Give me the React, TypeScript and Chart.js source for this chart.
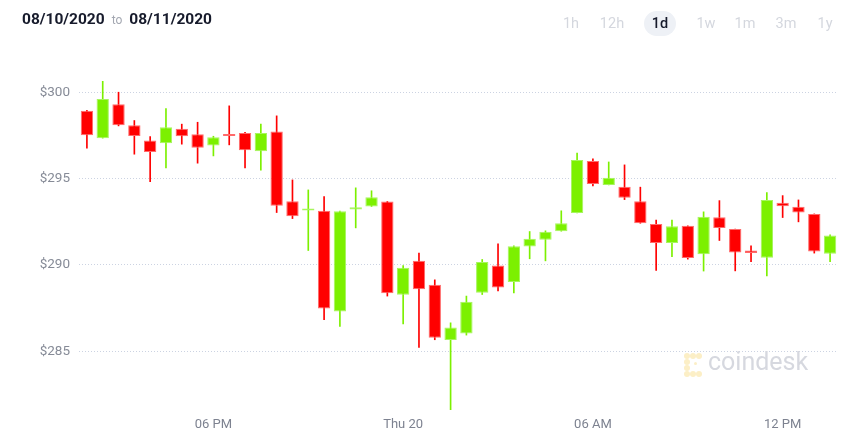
import React, { useEffect, useRef } from "react";
import { Chart, registerables } from "chart.js";

Chart.register(...registerables);

const times = [
  "14:00", "14:30", "15:00", "15:30", "16:00", "16:30", "17:00", "17:30",
  "18:00", "18:30", "19:00", "19:30", "20:00", "20:30", "21:00", "21:30",
  "22:00", "22:30", "23:00", "23:30", "00:00", "00:30", "01:00", "01:30",
  "02:00", "02:30", "03:00", "03:30", "04:00", "04:30", "05:00", "05:30",
  "06:00", "06:30", "07:00", "07:30", "08:00", "08:30", "09:00", "09:30",
  "10:00", "10:30", "11:00", "11:30", "12:00", "12:30", "13:00", "13:30",
];

const opens = [
  298.93, 297.34, 299.31, 298.09, 297.2, 297.05, 297.89, 297.57, 296.91, 297.52, 297.64, 296.58,
  297.72, 293.69, 293.15, 293.13, 287.3, 293.2, 293.38, 293.67, 288.26, 290.23, 288.84, 285.64,
  286.02, 288.38, 289.96, 289.0, 291.06, 291.45, 291.95, 293.01, 296.02, 294.63, 294.52, 293.69,
  292.36, 291.27, 292.26, 290.62, 292.76, 292.07, 290.83, 290.41, 293.59, 293.36, 292.95, 290.64,
];
const highs = [
  298.95, 300.65, 300.0, 298.36, 297.43, 299.05, 298.15, 298.26, 297.45, 299.21, 297.68, 298.16,
  298.63, 294.92, 294.34, 293.95, 293.11, 294.46, 294.29, 293.67, 289.96, 290.68, 289.13, 286.64,
  288.19, 290.31, 291.22, 291.1, 291.93, 291.97, 293.13, 296.47, 296.14, 295.96, 295.79, 294.5,
  292.59, 292.59, 292.26, 293.07, 293.72, 292.07, 291.1, 294.19, 294.01, 293.76, 292.95, 291.74,
];
const lows = [
  296.76, 297.34, 298.05, 296.41, 294.82, 295.62, 296.99, 295.89, 296.31, 296.95, 295.62, 295.48,
  293.03, 292.68, 290.83, 286.82, 286.43, 292.14, 293.38, 288.19, 286.57, 285.21, 285.66, 281.59,
  285.93, 288.28, 288.49, 288.38, 290.35, 290.23, 291.95, 293.01, 294.57, 294.63, 293.78, 292.41,
  289.67, 290.48, 290.33, 289.64, 291.41, 289.65, 290.19, 289.36, 292.74, 292.49, 290.68, 290.19,
];
const closes = [
  297.51, 299.61, 298.09, 297.47, 296.54, 297.97, 297.45, 296.79, 297.39, 297.46, 296.64, 297.64,
  293.43, 292.82, 293.19, 287.47, 293.11, 293.34, 293.92, 288.36, 289.83, 288.59, 285.77, 286.37,
  287.86, 290.16, 288.69, 291.08, 291.51, 291.91, 292.41, 296.08, 294.69, 295.04, 293.88, 292.41,
  291.26, 292.24, 290.39, 292.78, 292.14, 290.71, 290.68, 293.76, 293.4, 293.03, 290.77, 291.7,
];

const yTickValues = [285, 290, 295, 300];
const xTickLabels: Record<string, string> = {
  "18:00": "06 PM",
  "00:00": "Thu 20",
  "06:00": "06 AM",
  "12:00": "12 PM",
};

const rangeButtons = ["1h", "12h", "1d", "1w", "1m", "3m", "1y"];
const activeRange = "1d";
const fromDate = "08/10/2020";
const toDate = "08/11/2020";

const UP = "#7cf000";
const DOWN = "#ff0000";
const UP_BORDER = "#a6f55e";
const DOWN_BORDER = "#ff6a6a";

// watermark icon blobs (relative offsets, px)
const iconDots = [
  [0, 0], [6, 0], [12, 0],
  [0, 6], [0, 12], [0, 18],
  [6, 18], [12, 18],
  [10, 9],
];

export default function App() {
  const ref = useRef<HTMLCanvasElement | null>(null);

  useEffect(() => {
    if (!ref.current) return;
    const isUp = times.map((_, i) => closes[i] >= opens[i]);
    const chart = new Chart(ref.current, {
      type: "bar",
      data: {
        labels: times,
        datasets: [
          {
            label: "body",
            data: times.map((_, i) => [opens[i], closes[i]]),
            backgroundColor: isUp.map((u) => (u ? UP : DOWN)),
            borderColor: isUp.map((u) => (u ? UP_BORDER : DOWN_BORDER)),
            borderWidth: 1,
            borderSkipped: false,
            grouped: false,
            categoryPercentage: 1,
            barPercentage: 0.78,
            minBarLength: 2,
            order: 0,
          } as any,
          {
            label: "wick",
            data: times.map((_, i) => [lows[i], highs[i]]),
            backgroundColor: isUp.map((u) => (u ? UP : DOWN)),
            borderWidth: 0,
            grouped: false,
            barThickness: 1,
            order: 1,
          } as any,
        ],
      },
      options: {
        responsive: false,
        animation: false,
        devicePixelRatio: 1,
        layout: { padding: { left: 0, right: 26, top: 81, bottom: 0 } },
        plugins: { legend: { display: false }, tooltip: { enabled: false } },
        scales: {
          x: {
            grid: { display: false, drawTicks: false },
            border: { display: false },
            ticks: {
              autoSkip: false,
              maxRotation: 0,
              padding: 7,
              color: "#7d8290",
              font: { family: "Roboto", size: 13 },
              callback: (_v: any, i: number) => xTickLabels[times[i]] ?? "",
            },
            afterFit: (s: any) => {
              s.height = 33;
            },
          },
          y: {
            min: Math.min(...lows),
            max: Math.max(...highs),
            z: 1,
            grid: { color: "#ccd3e2", drawTicks: false, lineWidth: 1 },
            border: { display: false, dash: [1, 2] },
            ticks: {
              padding: 9,
              color: "#868b97",
              font: { family: "Roboto", size: 13.5 },
              callback: (v: any) => "$" + v,
            },
            afterBuildTicks: (s: any) => {
              s.ticks = yTickValues.map((v) => ({ value: v }));
            },
            afterFit: (s: any) => {
              s.width = 79;
            },
          },
        },
      },
    });
    return () => chart.destroy();
  }, []);

  return (
    <div
      style={{
        position: "absolute",
        left: 0,
        top: 0,
        width: 864,
        height: 443,
        background: "#fff",
        fontFamily: "Roboto, sans-serif",
        overflow: "hidden",
      }}
    >
      <canvas ref={ref} width={864} height={443} style={{ position: "absolute", left: 0, top: 0 }} />
      <div
        style={{
          position: "absolute",
          left: 22,
          top: 10,
          display: "flex",
          alignItems: "baseline",
          whiteSpace: "nowrap",
        }}
      >
        <span style={{ fontSize: 15.5, fontWeight: 700, color: "#161a2b" }}>{fromDate}</span>
        <span style={{ fontSize: 12, color: "#a3a7b1", margin: "0 7px" }}>to</span>
        <span style={{ fontSize: 15.5, fontWeight: 700, color: "#161a2b" }}>{toDate}</span>
      </div>
      {rangeButtons.map((b, i) => {
        const centers = [571, 612, 660, 706, 745, 786, 825];
        const active = b === activeRange;
        return (
          <div
            key={b}
            style={{
              position: "absolute",
              left: centers[i] - 16,
              top: 11,
              width: 32,
              height: 25,
              lineHeight: "25px",
              textAlign: "center",
              fontSize: 14.5,
              fontWeight: active ? 500 : 400,
              color: active ? "#161a2b" : "#d4d7de",
              background: active ? "#eef1f6" : "transparent",
              borderRadius: 13,
            }}
          >
            {b}
          </div>
        );
      })}
      {iconDots.map(([dx, dy], i) => (
        <div
          key={i}
          style={{
            position: "absolute",
            left: 684 + dx,
            top: 353 + dy,
            width: i === 8 ? 3 : 6,
            height: i === 8 ? 3 : 6,
            borderRadius: 3,
            background: "#fcefc6",
          }}
        />
      ))}
      <div
        style={{
          position: "absolute",
          left: 708,
          top: 347,
          fontSize: 25,
          color: "#d6d8df",
          lineHeight: "30px",
        }}
      >
        coindesk
      </div>
    </div>
  );
}
